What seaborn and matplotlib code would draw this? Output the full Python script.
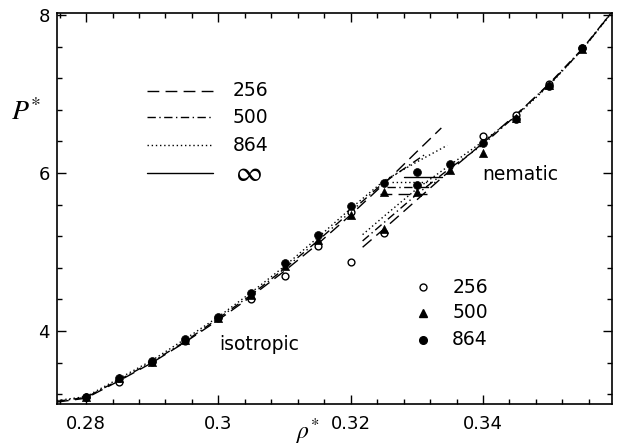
import matplotlib
matplotlib.use("Agg")
import matplotlib.pyplot as plt
from matplotlib.ticker import MultipleLocator
import seaborn as sns

# isotropic branches (fits) per system size
iso256_rho = [0.2756, 0.28, 0.285, 0.29, 0.295, 0.30, 0.305, 0.31, 0.315, 0.32, 0.325, 0.33, 0.3337]
iso256_P = [3.10, 3.15, 3.37, 3.60, 3.86, 4.14, 4.44, 4.76, 5.10, 5.47, 5.86, 6.27, 6.57]
iso500_rho = [0.2756, 0.28, 0.285, 0.29, 0.295, 0.30, 0.305, 0.31, 0.315, 0.32, 0.325, 0.3315]
iso500_P = [3.11, 3.16, 3.38, 3.61, 3.87, 4.16, 4.46, 4.79, 5.14, 5.51, 5.88, 6.25]
iso864_rho = [0.2756, 0.28, 0.285, 0.29, 0.295, 0.30, 0.305, 0.31, 0.315, 0.32, 0.325, 0.33, 0.3346]
iso864_P = [3.12, 3.17, 3.40, 3.63, 3.90, 4.18, 4.49, 4.82, 5.18, 5.55, 5.90, 6.14, 6.35]

# nematic branches
nem_rho = [0.3218, 0.325, 0.33, 0.335, 0.34, 0.345, 0.35, 0.355, 0.3595]
nem256_P = [5.06, 5.29, 5.66, 6.03, 6.38, 6.74, 7.12, 7.56, 8.04]
nem500_P = [5.14, 5.37, 5.73, 6.06, 6.36, 6.73, 7.13, 7.57, 8.04]
nem864_P = [5.22, 5.45, 5.80, 6.10, 6.40, 6.72, 7.11, 7.56, 8.03]

# coexistence tie lines
tie256_rho, tie256_P = [0.3245, 0.3316], [5.73, 5.73]
tie500_rho, tie500_P = [0.3255, 0.3320], [5.82, 5.82]
tie864_rho, tie864_P = [0.3263, 0.3327], [5.89, 5.89]
tieinf_rho, tieinf_P = [0.3281, 0.3338], [5.95, 5.95]

# simulation points
m256_rho = [0.28, 0.285, 0.29, 0.295, 0.30, 0.305, 0.31, 0.315, 0.32, 0.32, 0.325, 0.34, 0.345, 0.35, 0.355]
m256_P = [3.16, 3.36, 3.61, 3.87, 4.16, 4.41, 4.70, 5.07, 5.51, 4.87, 5.24, 6.47, 6.73, 7.13, 7.58]
m500_rho = [0.28, 0.285, 0.29, 0.295, 0.30, 0.305, 0.31, 0.315, 0.32, 0.325, 0.325, 0.33, 0.335, 0.34, 0.345, 0.35, 0.355]
m500_P = [3.17, 3.40, 3.61, 3.88, 4.16, 4.45, 4.82, 5.15, 5.47, 5.76, 5.29, 5.76, 6.04, 6.25, 6.70, 7.12, 7.57]
m864_rho = [0.28, 0.285, 0.29, 0.295, 0.30, 0.305, 0.31, 0.315, 0.32, 0.325, 0.33, 0.33, 0.335, 0.34, 0.345, 0.35, 0.355]
m864_P = [3.17, 3.41, 3.62, 3.90, 4.18, 4.48, 4.86, 5.22, 5.58, 5.87, 6.01, 5.85, 6.12, 6.38, 6.68, 7.10, 7.58]

sizes = ["256", "500", "864"]

DASH = (0, (8.5, 4.5))
DASHDOT = (0, (6, 2.5, 1, 2.5))
DOT = (0, (1, 2))

sns.set_theme(style="ticks")
plt.rcParams["font.family"] = ["DejaVu Sans"]
plt.rcParams["mathtext.fontset"] = "stix"
plt.rcParams["text.color"] = "black"

fig = plt.figure(figsize=(6.17, 4.46), dpi=100)
ax = fig.add_axes([57 / 617, 42 / 446, 555 / 617, 391 / 446])

curves = [
    (iso256_rho, iso256_P, DASH), (nem_rho, nem256_P, DASH), (tie256_rho, tie256_P, DASH),
    (iso500_rho, iso500_P, DASHDOT), (nem_rho, nem500_P, DASHDOT), (tie500_rho, tie500_P, DASHDOT),
    (iso864_rho, iso864_P, DOT), (nem_rho, nem864_P, DOT), (tie864_rho, tie864_P, DOT),
    (tieinf_rho, tieinf_P, "-"),
]
for xs, ys, ls in curves:
    sns.lineplot(x=xs, y=ys, ax=ax, color="black", lw=1.0, linestyle=ls,
                 sort=False, estimator=None)

sns.scatterplot(x=m256_rho, y=m256_P, ax=ax, marker="o", s=24, color="white",
                edgecolor="black", linewidth=1.0, zorder=4)
sns.scatterplot(x=m500_rho, y=m500_P, ax=ax, marker="^", s=34, color="black",
                edgecolor="black", linewidth=0.5, zorder=4)
sns.scatterplot(x=m864_rho, y=m864_P, ax=ax, marker="o", s=32, color="black",
                edgecolor="black", linewidth=0.5, zorder=4)

# line-style key (upper left)
key_y = [0.801, 0.734, 0.662, 0.591]
for ls, lab, y in zip([DASH, DASHDOT, DOT, "-"], sizes + [r"$\infty$"], key_y):
    ax.plot([0.162, 0.281], [y, y], transform=ax.transAxes, color="black",
            lw=1.0, linestyle=ls)
    if lab.startswith("$"):
        ax.text(0.320, y, lab, transform=ax.transAxes, fontsize=21, va="center")
    else:
        ax.text(0.317, y, lab, transform=ax.transAxes, fontsize=13.5, va="center")

# marker key (lower right)
mk_y = [0.299, 0.233, 0.164]
for (mk, fc, ms), lab, y in zip([("o", "white", 5), ("^", "black", 5.5), ("o", "black", 5.5)],
                                sizes, mk_y):
    ax.plot([0.659], [y], transform=ax.transAxes, marker=mk, ms=ms, mfc=fc,
            mec="black", mew=1.0, ls="none")
    ax.text(0.712, y, lab, transform=ax.transAxes, fontsize=13.5, va="center")

ax.text(0.364, 0.151, "isotropic", transform=ax.transAxes, fontsize=13.5,
        ha="center", va="center")
ax.text(0.834, 0.586, "nematic", transform=ax.transAxes, fontsize=13.5,
        ha="center", va="center")

ax.set_xlim(0.2756, 0.3595)
ax.set_ylim(3.076, 8.025)
ax.set_xticks([0.28, 0.30, 0.32, 0.34])
ax.set_xticklabels(["0.28", "0.3", "0.32", "0.34"])
ax.set_yticks([4, 6, 8])
ax.set_yticklabels(["4", "6", "8"])
ax.xaxis.set_minor_locator(MultipleLocator(0.004))
ax.yaxis.set_minor_locator(MultipleLocator(0.4))
ax.tick_params(which="both", direction="in", top=True, right=True, colors="black",
               labelsize=13)
ax.tick_params(which="major", length=6.5, width=1.0)
ax.tick_params(which="minor", length=3.5, width=1.0)
ax.tick_params(axis="x", pad=8)
ax.tick_params(axis="y", pad=5)
for sp in ax.spines.values():
    sp.set_visible(True)
    sp.set_linewidth(1.2)
    sp.set_color("black")

ax.set_xlabel("")
ax.set_ylabel("")
ax.text(-0.056, 0.747, r"$P^{*}$", transform=ax.transAxes, fontsize=20,
        ha="center", va="center")
ax.text(0.452, -0.072, r"$\rho^{*}$", transform=ax.transAxes, fontsize=17,
        ha="center", va="center")

fig.savefig("out.png", dpi=100)
